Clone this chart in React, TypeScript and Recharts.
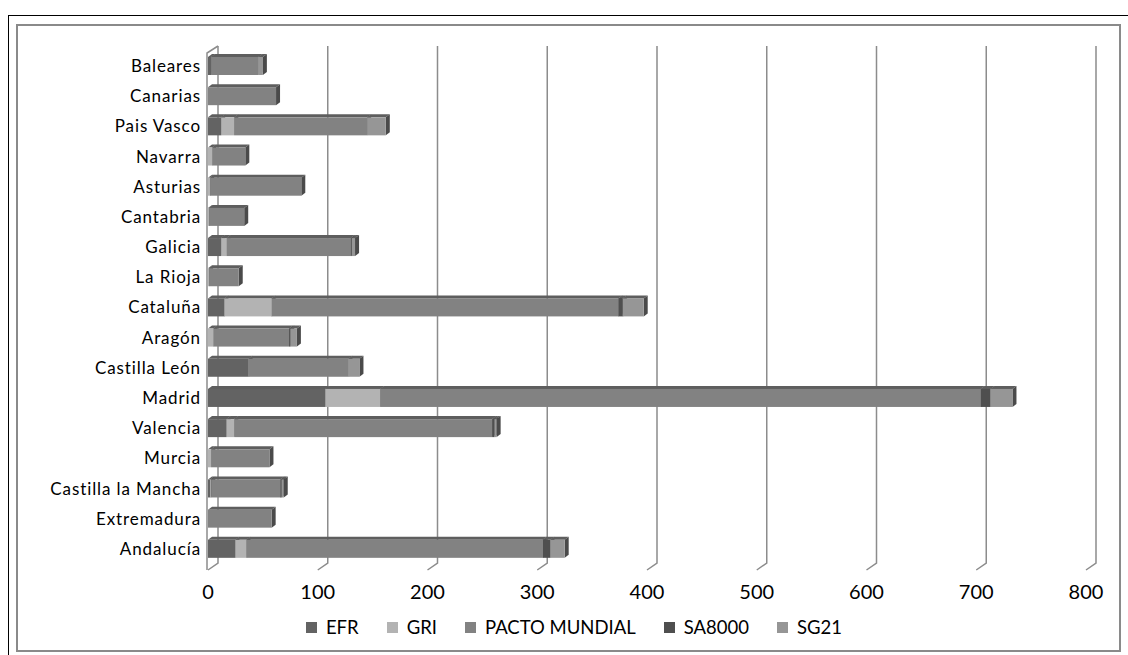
import { BarChart, Bar, XAxis, YAxis, CartesianGrid, Legend } from 'recharts'

const regions = [
  'Baleares', 'Canarias', 'Pais Vasco', 'Navarra', 'Asturias', 'Cantabria', 'Galicia',
  'La Rioja', 'Cataluña', 'Aragón', 'Castilla León', 'Madrid', 'Valencia', 'Murcia',
  'Castilla la Mancha', 'Extremadura', 'Andalucía',
]
const efr = [3, 0, 12, 0, 0, 0, 12, 0, 15, 0, 37, 107, 17, 0, 2, 0, 25]
const gri = [0, 0, 12, 4, 2, 1, 5, 1, 43, 5, 0, 50, 7, 3, 1, 0, 10]
const pacto = [43, 62, 121, 30, 83, 32, 113, 27, 316, 69, 91, 547, 235, 53, 63, 58, 270]
const sa8000 = [0, 0, 0, 0, 0, 0, 1, 0, 4, 1, 0, 9, 2, 0, 1, 0, 7]
const sg21 = [4, 0, 17, 0, 0, 0, 3, 0, 19, 6, 10, 20, 2, 0, 2, 0, 13]
const xTicks = [0, 100, 200, 300, 400, 500, 600, 700, 800]

const series = [
  { key: 'EFR', values: efr, color: '#636363' },
  { key: 'GRI', values: gri, color: '#b3b3b3' },
  { key: 'PACTO MUNDIAL', values: pacto, color: '#828282' },
  { key: 'SA8000', values: sa8000, color: '#4f4f4f' },
  { key: 'SG21', values: sg21, color: '#969696' },
]

const data = regions.map((name, i) => {
  const row: Record<string, string | number> = { name }
  series.forEach((s) => { row[s.key] = s.values[i] })
  return row
})

const FONT = 'Lato, "Open Sans", sans-serif'
const DX = 4 // bar depth, horizontal
const DY = 3 // bar depth, vertical
const WALL = 10 // back wall offset

// stacked segment with a thin top face and a right side face
const Box = (props: any) => {
  const { x, y, width, height, fill } = props
  if (!width || width <= 0) return null
  const r = x + width
  return (
    <g>
      <polygon points={`${x},${y} ${x + DX},${y - DY} ${r + DX},${y - DY} ${r},${y}`} fill="#5e5e5e" />
      <polygon points={`${r},${y} ${r + DX},${y - DY} ${r + DX},${y + height - DY} ${r},${y + height}`} fill="#4a4a4a" />
      <rect x={x} y={y} width={width} height={height} fill={fill} />
    </g>
  )
}

// grid lines sit on the back wall, with a short floor edge back to the front
const GridLine = (props: any) => {
  const { x1, y1, y2, index } = props
  const bx = x1 + WALL
  return (
    <g stroke="#8c8c8c" strokeWidth={1.5} fill="none">
      <polyline points={`${bx},${y1 - 5} ${bx},${y2 - 1} ${x1},${y2 + 6}`} />
      {index === 0 && <polyline points={`${x1 - 1},${y2 + 6} ${x1 - 1},${y1 + 2} ${bx},${y1 - 5}`} />}
    </g>
  )
}

const XTick = (props: any) => {
  const { x, y, payload } = props
  return (
    <text x={x} y={y + 27} textAnchor="middle" fontSize={20} fontFamily={FONT} fill="#000">
      {payload.value}
    </text>
  )
}

const YTick = (props: any) => {
  const { x, y, payload } = props
  return (
    <text x={x + 1} y={y} dy="0.35em" textAnchor="end" fontSize={17} letterSpacing={0.9} fontFamily={FONT} fill="#000">
      {payload.value}
    </text>
  )
}

const LegendBox = () => (
  <div style={{ display: 'flex', justifyContent: 'center', gap: 28, fontFamily: FONT, fontSize: 18.5, color: '#000' }}>
    {series.map((s) => (
      <div key={s.key} style={{ display: 'flex', alignItems: 'center', gap: 9 }}>
        <span style={{ width: 11, height: 11, background: s.color, display: 'inline-block' }} />
        <span>{s.key}</span>
      </div>
    ))}
  </div>
)

export default function App() {
  return (
    <div style={{ position: 'relative', width: 1128, height: 655, overflow: 'hidden', background: '#fff' }}>
      <style>{'body{margin:0;overflow:hidden}'}</style>
      <div style={{ position: 'absolute', left: 8, top: 15, width: 1140, height: 660, border: '1.5px solid #000', boxSizing: 'border-box' }} />
      <div style={{ position: 'absolute', left: 16, top: 24, width: 1105, height: 628, border: '2px solid #8a8a8a', boxSizing: 'border-box' }} />
      <div style={{ position: 'absolute', left: 0, top: 0 }}>
        <BarChart
          width={1128}
          height={655}
          data={data}
          layout="vertical"
          barSize={18}
          margin={{ top: 51, right: 42, bottom: 51, left: 0 }}
        >
          <CartesianGrid horizontal={false} vertical={GridLine} />
          <XAxis
            type="number"
            domain={[0, 800]}
            ticks={xTicks}
            axisLine={false}
            tickLine={false}
            tick={XTick}
            height={40}
          />
          <YAxis
            type="category"
            dataKey="name"
            width={208}
            axisLine={false}
            tickLine={false}
            tick={YTick}
            interval={0}
          />
          <Legend verticalAlign="middle" wrapperStyle={{ top: 616, left: 10, width: 1128 }} content={LegendBox} />
          {series.map((s) => (
            <Bar key={s.key} dataKey={s.key} stackId="a" fill={s.color} shape={Box} isAnimationActive={false} />
          ))}
        </BarChart>
      </div>
    </div>
  )
}
